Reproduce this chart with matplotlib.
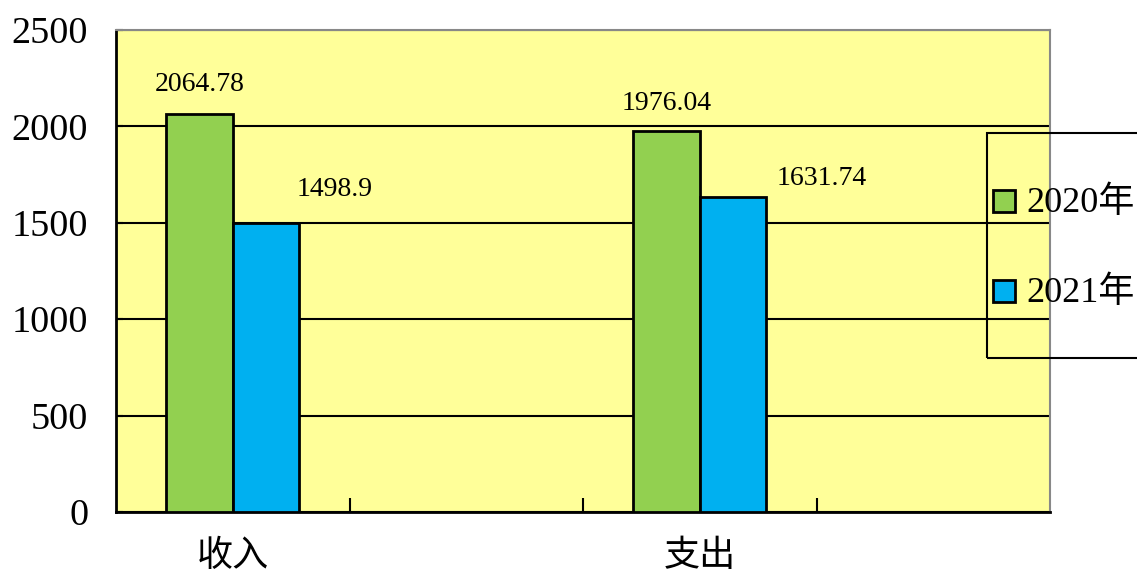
import matplotlib
matplotlib.use("Agg")
import matplotlib.pyplot as plt
from matplotlib.patches import Rectangle
import numpy as np

categories = ["收入", "", "支出", ""]
series_names = ["2020年", "2021年"]
values_2020 = [2064.78, None, 1976.04, None]
values_2021 = [1498.9, None, 1631.74, None]
label_2020 = ["2064.78", "", "1976.04", ""]
label_2021 = ["1498.9", "", "1631.74", ""]
yticks = [0, 500, 1000, 1500, 2000, 2500]

colors = ["#92D050", "#00B0F0"]
bg = "#FFFF99"
serif = ["Liberation Serif", "Noto Sans CJK SC"]

W, H = 1137, 578
fig = plt.figure(figsize=(W/100, H/100), dpi=100)
ax = fig.add_axes([116/W, 1-512/H, (1050-116)/W, (512-30)/H])
ax.set_facecolor(bg)

x = np.arange(len(categories))
w = 0.285
# label offsets in pixels (dx, dy) from the top centre of each bar
off_2020 = [(0, 29), None, (0, 28), None]
off_2021 = [(69, 34), None, (89, 19), None]

for vals, labs, offs, dx, c in [(values_2020, label_2020, off_2020, -w/2, colors[0]),
                                 (values_2021, label_2021, off_2021, w/2, colors[1])]:
    for i, v in enumerate(vals):
        if v is None:
            continue
        ax.bar(x[i] + dx, v, width=w, color=c, edgecolor="black", linewidth=2, zorder=3)
        ax.annotate(labs[i], (x[i] + dx, v), xytext=offs[i], textcoords="offset pixels",
                    ha="center", va="center", fontsize=20, family=serif, zorder=4)

ax.set_xlim(-0.5, len(categories) - 0.5)
ax.set_ylim(0, 2500)
ax.set_yticks(yticks)
ax.set_yticklabels([str(t) for t in yticks], fontsize=27.5, family=serif)
ax.tick_params(axis="y", direction="in", length=5, width=1.5, pad=20)
ax.set_xticks([0, 2])
ax.set_xticklabels([categories[0], categories[2]], fontsize=26, family=["Noto Sans CJK SC"])
ax.tick_params(axis="x", which="major", length=0, pad=19)
ax.set_xticks([0.5, 1.5, 2.5], minor=True)
ax.tick_params(axis="x", which="minor", direction="in", length=10, width=1.5)

ax.yaxis.grid(True, color="black", linewidth=1.5, zorder=1)
ax.set_axisbelow(True)
for s in ["left", "bottom"]:
    ax.spines[s].set_color("black")
    ax.spines[s].set_linewidth(2)
for s in ["top", "right"]:
    ax.spines[s].set_color("#888888")
    ax.spines[s].set_linewidth(1.5)

# legend drawn by hand (box extends past the right edge as in the reference)
def fx(px):
    return px / W
def fy(py):
    return 1 - py / H

fig.patches.append(Rectangle((fx(987), fy(358)), fx(1200 - 987), (358 - 133) / H,
                             transform=fig.transFigure, facecolor="none",
                             edgecolor="black", linewidth=1.5, zorder=5))
entry_y = [201, 291]
for name, c, yy in zip(series_names, colors, entry_y):
    fig.patches.append(Rectangle((fx(993), fy(yy + 11)), 22 / W, 22 / H,
                                 transform=fig.transFigure, facecolor=c,
                                 edgecolor="black", linewidth=2, zorder=6))
    fig.text(fx(1026), fy(yy + 2), name, ha="left", va="center", fontsize=26,
             family=serif, zorder=6)

fig.savefig("out.png", dpi=100)
